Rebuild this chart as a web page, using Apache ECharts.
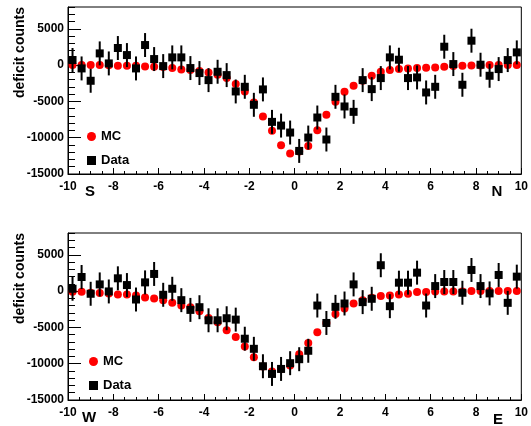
<!DOCTYPE html>
<html>
<head>
<meta charset="utf-8">
<script src="https://cdn.jsdelivr.net/npm/echarts@6/dist/echarts.min.js"></script>
<style>
html, body { margin: 0; padding: 0; background: #fff; }
#chart { width: 531px; height: 426px; }
</style>
</head>
<body>
<div id="chart"></div>
<script>
// bin centres (degrees)
var xs = [-9.8, -9.4, -9.0, -8.6, -8.2, -7.8, -7.4, -7.0, -6.6, -6.2,
          -5.8, -5.4, -5.0, -4.6, -4.2, -3.8, -3.4, -3.0, -2.6, -2.2,
          -1.8, -1.4, -1.0, -0.6, -0.2, 0.2, 0.6, 1.0, 1.4, 1.8,
          2.2, 2.6, 3.0, 3.4, 3.8, 4.2, 4.6, 5.0, 5.4, 5.8,
          6.2, 6.6, 7.0, 7.4, 7.8, 8.2, 8.6, 9.0, 9.4, 9.8];

// south - north
var snMC = [0, 0, 0, 0, -30, -90, -90, -100, -180, -230,
            -280, -410, -600, -690, -830, -1010, -1330, -1790, -2620, -3630,
            -5150, -7080, -9060, -11040, -12190, -11900, -11130, -8970, -6850, -5060,
            -3680, -2850, -2160, -1470, -920, -690, -550, -460, -410, -370,
            -320, -230, -140, -90, -50, -50, 0, 0, 0, 0];
var snData = [700, -460, -2160, 1610, 230, 2350, 1380, -460, 2760, 830,
              -140, 1060, 1060, -410, -1100, -2070, -920, -1380, -3630, -2990,
              -5470, -3350, -7820, -8330, -9290, -11820, -9980, -7220, -10250, -4370,
              -5700, -6440, -2070, -3310, -1790, 1060, 740, -1790, -1700, -3770,
              -2990, 2530, 140, -2710, 3360, 50, -1470, -550, 690, 1750];

// west - east
var weMC = [-90, -90, -230, -280, -320, -460, -460, -600, -880, -1020,
            -1250, -1620, -1990, -2220, -2770, -3700, -4300, -5410, -6330, -7620,
            -9100, -10400, -11090, -10720, -10260, -8690, -7160, -5680, -4390, -3140,
            -2400, -1710, -1250, -920, -690, -600, -460, -370, -140, -140,
            -50, -50, -50, -50, 0, 0, 0, 0, 0, 0];
var weData = [320, 1940, -370, 920, -50, 1760, 830, -1160, 1200, 2360,
              -510, 320, -1250, -2590, -2220, -4020, -4020, -3740, -3930, -6560,
              -7950, -10350, -11410, -10720, -9930, -9380, -8220, -1990, -4390, -2170,
              -1710, 920, -1520, -1060, 3560, -2080, 1160, 1160, 2540, -1990,
              690, 1250, 1250, -230, 2910, 690, -320, 2220, -1620, 1990];

var dataErr = 1650;

var FONT = 'Liberation Sans, Arial, sans-serif';

function pairs(vals) {
    return xs.map(function (x, i) { return [x, vals[i]]; });
}
function errPairs(vals) {
    return xs.map(function (x, i) { return [x, vals[i], dataErr]; });
}

function plain(v) { return String(v); }

function xAxes(g) {
    return [{
        gridIndex: g, type: 'value', position: 'bottom',
        min: -10, max: 10, interval: 2,
        axisLine: { onZero: false, lineStyle: { color: '#000', width: 1 } },
        axisTick: { inside: true, length: 6, lineStyle: { color: '#000' } },
        axisLabel: { color: '#000', fontWeight: 'bold', fontSize: 12, fontFamily: FONT, margin: 7, formatter: plain },
        splitLine: { show: false }
    }, {
        gridIndex: g, type: 'value', position: 'bottom',
        min: -10, max: 10, interval: 0.5,
        axisLine: { show: false, onZero: false },
        axisTick: { inside: true, length: 3, lineStyle: { color: '#000' } },
        axisLabel: { show: false },
        splitLine: { show: false }
    }];
}

function yAxes(g) {
    return [{
        gridIndex: g, type: 'value', position: 'left',
        min: -15000, max: 8000, interval: 5000,
        axisLine: { onZero: false, lineStyle: { color: '#000', width: 1 } },
        axisTick: { inside: true, length: 13, lineStyle: { color: '#000' } },
        axisLabel: { color: '#000', fontWeight: 'bold', fontSize: 12, fontFamily: FONT, margin: 4, showMaxLabel: false, formatter: plain },
        splitLine: { show: false }
    }, {
        gridIndex: g, type: 'value', position: 'left',
        min: -15000, max: 8000, interval: 1000,
        axisLine: { show: false, onZero: false },
        axisTick: { inside: true, length: 7, lineStyle: { color: '#000' } },
        axisLabel: { show: false },
        splitLine: { show: false }
    }];
}

function panelSeries(g, mc, data) {
    var xi = g * 2, yi = g * 2;
    return [{
        name: 'MC', type: 'scatter', xAxisIndex: xi, yAxisIndex: yi,
        symbol: 'circle', symbolSize: 8,
        itemStyle: { color: '#ff0000', opacity: 1 },
        data: pairs(mc), z: 2
    }, {
        type: 'custom', xAxisIndex: xi, yAxisIndex: yi,
        renderItem: function (params, api) {
            var x = api.value(0), y = api.value(1), e = api.value(2);
            var p1 = api.coord([x, y + e]);
            var p2 = api.coord([x, y - e]);
            return {
                type: 'line',
                shape: { x1: p1[0], y1: p1[1], x2: p2[0], y2: p2[1] },
                style: { stroke: '#000', lineWidth: 2 }
            };
        },
        encode: { x: 0, y: 1 },
        data: errPairs(data), z: 3
    }, {
        name: 'Data', type: 'scatter', xAxisIndex: xi, yAxisIndex: yi,
        symbol: 'rect', symbolSize: 8,
        itemStyle: { color: '#000', opacity: 1 },
        data: pairs(data), z: 4
    }];
}

function legendFor(left, top) {
    return {
        orient: 'vertical', left: left, top: top, padding: 0,
        itemWidth: 9, itemHeight: 9, itemGap: 11,
        selectedMode: false,
        textStyle: { color: '#000', fontWeight: 'bold', fontSize: 13, fontFamily: FONT },
        data: [{ name: 'MC', icon: 'circle' }, { name: 'Data', icon: 'rect' }]
    };
}

function label(text, x, y, size, rot) {
    return {
        type: 'text', x: x, y: y, rotation: rot || 0,
        style: {
            text: text, fill: '#000', fontWeight: 'bold', fontSize: size, fontFamily: FONT,
            align: rot ? 'right' : 'center', verticalAlign: 'middle'
        }
    };
}

var myChart = echarts.init(document.getElementById('chart'));

var option = {
    backgroundColor: '#fff',
    animation: false,
    grid: [
        { left: 68, top: 7, width: 455, height: 167, show: true, borderColor: '#000', borderWidth: 1 },
        { left: 68, top: 233, width: 455, height: 167, show: true, borderColor: '#000', borderWidth: 1 }
    ],
    xAxis: xAxes(0).concat(xAxes(1)),
    yAxis: yAxes(0).concat(yAxes(1)),
    legend: [legendFor(87, 130), legendFor(89, 355)],
    graphic: [
        label('deficit counts', 20, 7, 14, Math.PI / 2),
        label('deficit counts', 20, 233, 14, Math.PI / 2),
        label('S', 90, 192, 15),
        label('N', 497, 192, 15),
        label('W', 89, 418, 15),
        label('E', 498, 420, 15)
    ],
    series: panelSeries(0, snMC, snData).concat(panelSeries(1, weMC, weData))
};

myChart.setOption(option, true);
</script>
</body>
</html>
